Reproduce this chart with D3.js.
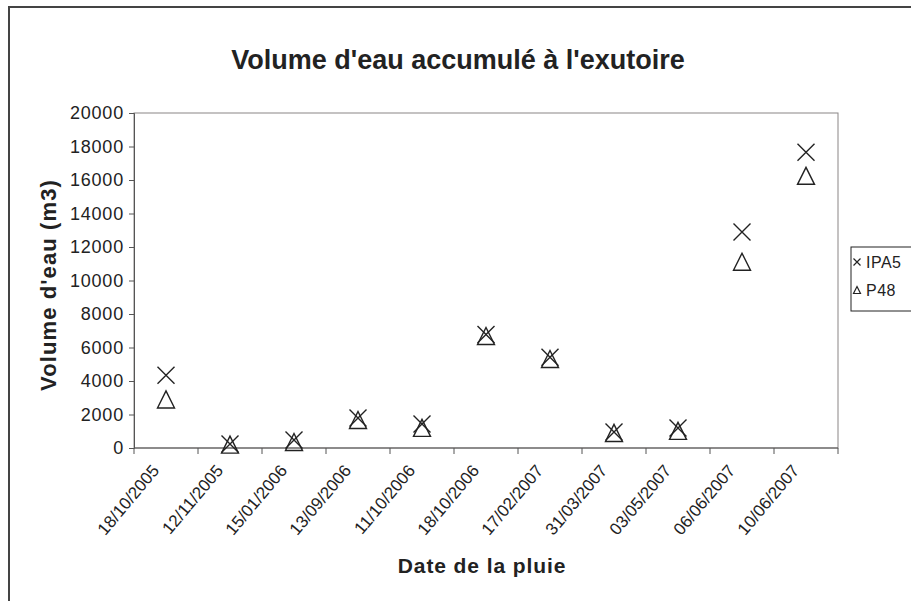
<!DOCTYPE html>
<html>
<head>
<meta charset="utf-8">
<script src="https://cdn.jsdelivr.net/npm/d3@7"></script>
<style>
  html, body { margin: 0; padding: 0; background: #fff; }
  text { font-family: "Liberation Sans", Arial, sans-serif; fill: #222; }
</style>
</head>
<body>
<svg id="chart" width="911" height="601"></svg>
<script>
// ---- data ----
const dates = ["18/10/2005", "12/11/2005", "15/01/2006", "13/09/2006", "11/10/2006",
               "18/10/2006", "17/02/2007", "31/03/2007", "03/05/2007", "06/06/2007", "10/06/2007"];
const ipa5 = [4350, 240, 480, 1790, 1430, 6780, 5420, 960, 1190, 12900, 17650];
const p48  = [2900, 200, 360, 1670, 1200, 6690, 5310, 900, 1020, 11120, 16250];
const yTicks = [0, 2000, 4000, 6000, 8000, 10000, 12000, 14000, 16000, 18000, 20000];
const seriesNames = ["IPA5", "P48"];
const titleText = "Volume d'eau accumulé à l'exutoire";
const xTitle = "Date de la pluie";
const yTitle = "Volume d'eau (m3)";

const svg = d3.select("#chart");
svg.append("rect").attr("width", 911).attr("height", 601).attr("fill", "#fff");

// outer chart border
svg.append("rect").attr("x", 9).attr("y", 7).attr("width", 940).attr("height", 640)
  .attr("fill", "none").attr("stroke", "#444").attr("stroke-width", 2);

const plot = { left: 134, right: 838, top: 113, bottom: 448 };

const x = d3.scaleBand().domain(dates).range([plot.left, plot.right]).paddingInner(0).paddingOuter(0);
const y = d3.scaleLinear().domain([0, 20000]).range([plot.bottom, plot.top]);

// plot area border (top/right)
svg.append("rect").attr("x", plot.left).attr("y", plot.top)
  .attr("width", plot.right - plot.left).attr("height", plot.bottom - plot.top)
  .attr("fill", "none").attr("stroke", "#8a8585").attr("stroke-width", 1);

// y axis
const yAxis = d3.axisLeft(y).tickValues(yTicks).tickSize(5).tickPadding(5).tickFormat(d3.format("d"));
const gy = svg.append("g").attr("transform", `translate(${plot.left},0)`).call(yAxis);
gy.select(".domain").attr("stroke", "#555");
gy.selectAll(".tick line").attr("stroke", "#555");
gy.selectAll(".tick text").attr("font-size", 18).attr("letter-spacing", "0.8px").attr("fill", "#222")
  .attr("font-family", "'Liberation Sans', Arial, sans-serif");

// x axis: ticks at category boundaries
const boundaries = dates.map(d => x(d)).concat([plot.right]);
const gx = svg.append("g");
gx.append("line").attr("x1", plot.left).attr("x2", plot.right)
  .attr("y1", plot.bottom).attr("y2", plot.bottom).attr("stroke", "#555");
gx.selectAll("line.tk").data(boundaries).join("line").attr("class", "tk")
  .attr("x1", d => d).attr("x2", d => d).attr("y1", plot.bottom).attr("y2", plot.bottom + 6)
  .attr("stroke", "#555");
gx.selectAll("text").data(dates).join("text")
  .attr("transform", d => `translate(${x(d) + x.bandwidth() / 2 - 6},${plot.bottom + 23}) rotate(-50)`)
  .attr("text-anchor", "end")
  .attr("font-size", 17)
  .text(d => d);

// markers
const half = 8.5;
const gm = svg.append("g").attr("fill", "none").attr("stroke", "#222").attr("stroke-width", 1.4);
gm.selectAll("path.x").data(ipa5).join("path").attr("class", "x")
  .attr("d", (v, i) => {
    const cx = x(dates[i]) + x.bandwidth() / 2, cy = y(v);
    return `M${cx - half},${cy - half}L${cx + half},${cy + half}M${cx - half},${cy + half}L${cx + half},${cy - half}`;
  });
gm.selectAll("path.t").data(p48).join("path").attr("class", "t")
  .attr("d", (v, i) => {
    const cx = x(dates[i]) + x.bandwidth() / 2, cy = y(v);
    return `M${cx},${cy - half}L${cx + half},${cy + half}L${cx - half},${cy + half}Z`;
  });

// titles
svg.append("text").attr("x", 458).attr("y", 69).attr("text-anchor", "middle")
  .attr("font-size", 27).attr("font-weight", "bold").text(titleText);
svg.append("text").attr("x", 482).attr("y", 573).attr("text-anchor", "middle")
  .attr("font-size", 21).attr("letter-spacing", "0.9px").attr("font-weight", "bold").text(xTitle);
svg.append("text").attr("transform", "translate(56,285) rotate(-90)").attr("text-anchor", "middle")
  .attr("font-size", 22).attr("letter-spacing", "1.1px").attr("font-weight", "bold").text(yTitle);

// legend
const lg = svg.append("g");
lg.append("rect").attr("x", 851).attr("y", 247).attr("width", 80).attr("height", 64)
  .attr("fill", "#fff").attr("stroke", "#222").attr("stroke-width", 1);
const lh = 3.5;
seriesNames.forEach((name, i) => {
  const cy = 262 + i * 28;
  const cx = 857;
  lg.append("path").attr("fill", "none").attr("stroke", "#222").attr("stroke-width", 1.2)
    .attr("d", i === 0
      ? `M${cx - lh},${cy - lh}L${cx + lh},${cy + lh}M${cx - lh},${cy + lh}L${cx + lh},${cy - lh}`
      : `M${cx},${cy - lh}L${cx + lh},${cy + lh}L${cx - lh},${cy + lh}Z`);
  lg.append("text").attr("x", 866).attr("y", cy + 6).attr("font-size", 16)
    .attr("letter-spacing", "0.5px").text(name);
});
</script>
</body>
</html>
